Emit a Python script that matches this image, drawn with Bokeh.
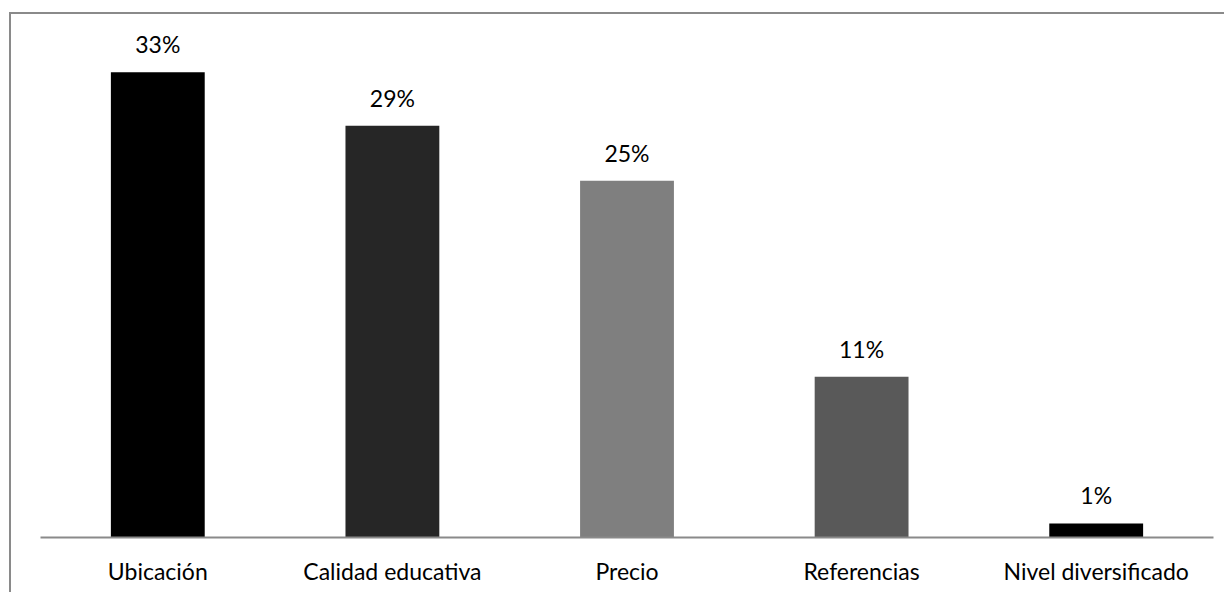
from bokeh.plotting import figure
from bokeh.models import ColumnDataSource, LabelSet
from bokeh.core.properties import value
from bokeh.embed import file_html
from bokeh.resources import INLINE

categories = ["Ubicación", "Calidad educativa", "Precio", "Referencias", "Nivel diversificado"]
values = [33.0, 29.2, 25.3, 11.4, 1.0]
colors = ["#000000", "#262626", "#7f7f7f", "#595959", "#000000"]
labels = [f"{round(v)}%" for v in values]

FONT = "Lato"

src = ColumnDataSource(dict(cat=categories, val=values, color=colors, label=labels))

p = figure(x_range=categories, width=1215, height=580, output_backend="svg",
           toolbar_location=None, tools="")
p.styles = {"border-top": "2px solid #8a8a8a", "border-left": "2px solid #8a8a8a",
            "margin-top": "12px", "margin-left": "9px"}
p.y_range.start = 0
p.y_range.end = 37.1
p.x_range.range_padding = 0

p.min_border_left = 29
p.min_border_right = 13
p.min_border_top = 0
p.min_border_bottom = 57

p.vbar(x="cat", top="val", width=0.4, color="color", source=src, line_color=None)

lbl = LabelSet(x="cat", y="val", text="label", source=src, text_align="center",
               text_baseline="alphabetic", y_offset=19, text_font=value(FONT),
               text_font_size=value("23px"), text_color=value("#000000"))
p.add_layout(lbl)

p.yaxis.visible = False
p.xgrid.visible = False
p.ygrid.visible = False
p.outline_line_color = None
p.xaxis.axis_line_color = "#8a8a8a"
p.xaxis.axis_line_width = 2
p.xaxis.major_tick_line_color = None
p.xaxis.minor_tick_line_color = None
p.xaxis.major_label_text_font = FONT
p.xaxis.major_label_text_font_size = "23px"
p.xaxis.major_label_text_color = "#000000"
p.xaxis.major_label_standoff = 13

open("out.html", "w").write(file_html(p, INLINE))
